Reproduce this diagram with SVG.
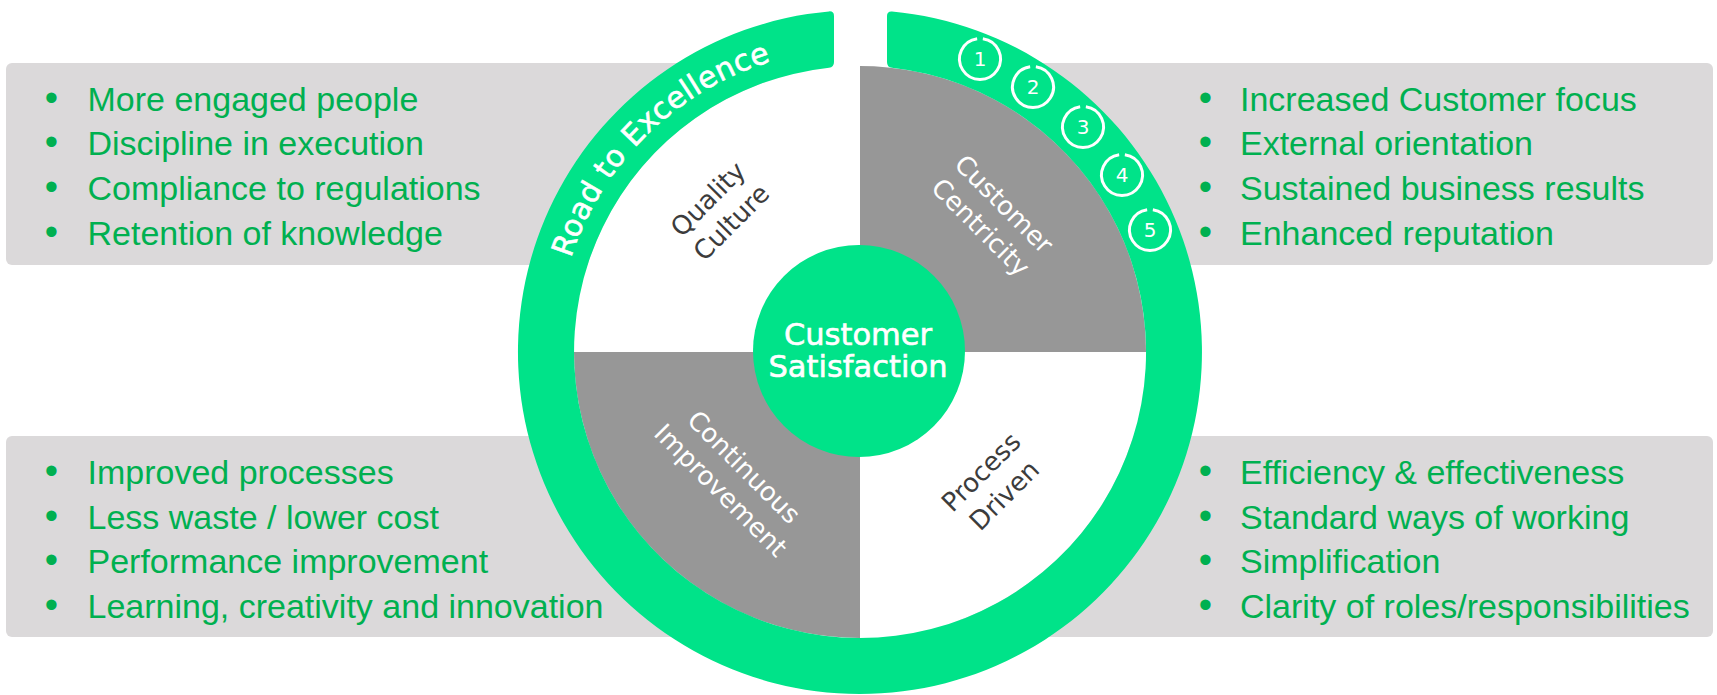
<svg xmlns="http://www.w3.org/2000/svg" xmlns:xlink="http://www.w3.org/1999/xlink" width="1717" height="695" viewBox="0 0 1717 695">
  <style>
    .panel { fill: #dbd9da; }
    .bullet { font-family: "Liberation Sans", Arial, sans-serif; font-size: 34px; fill: #00b050; }
    .dot { font-family: "Liberation Sans", Arial, sans-serif; font-size: 38px; fill: #00b050; text-anchor: middle; }
    .green { fill: #00e389; }
    .dark { fill: #979797; }
    .seg { font-family: "DejaVu Sans", sans-serif; font-size: 26px; text-anchor: middle; }
    .segdark { fill: #3c3c3c; }
    .seglight { fill: #ffffff; }
    .center { font-family: "DejaVu Sans", sans-serif; font-size: 30.5px; fill: #ffffff; stroke: #ffffff; stroke-width: 0.6; text-anchor: middle; }
    .road { font-family: "DejaVu Sans", sans-serif; font-size: 30px; letter-spacing: 0.4px; fill: #ffffff; stroke: #ffffff; stroke-width: 0.6; }
    .num { font-family: "DejaVu Sans", sans-serif; font-size: 20px; fill: #ffffff; text-anchor: middle; }
    .numring { fill: none; stroke: #ffffff; stroke-width: 3; }
  </style>
  <defs>
    <path id="roadArc" d="M 561.1,296.6 A 304 304 0 0 1 809.8,52.2"/>
    <path id="gapRing" d="M 2.85,-20.3 A 20.5 20.5 0 1 1 -2.85,-20.3"/>
  </defs>

  <rect width="1717" height="695" fill="#ffffff"/>

  <!-- Panels -->
  <g id="panel-top-left">
    <rect class="panel" x="6" y="63" width="760" height="202" rx="6"/>
    <text class="dot" x="51.5" y="110.5">•</text>
    <text class="dot" x="51.5" y="155">•</text>
    <text class="dot" x="51.5" y="200">•</text>
    <text class="dot" x="51.5" y="245">•</text>
    <text class="bullet" x="87.5" y="110.5">More engaged people</text>
    <text class="bullet" x="87.5" y="155">Discipline in execution</text>
    <text class="bullet" x="87.5" y="200">Compliance to regulations</text>
    <text class="bullet" x="87.5" y="245">Retention of knowledge</text>
  </g>
  <g id="panel-top-right">
    <rect class="panel" x="960" y="63" width="753" height="202" rx="6"/>
    <text class="dot" x="1205.5" y="110.5">•</text>
    <text class="dot" x="1205.5" y="155">•</text>
    <text class="dot" x="1205.5" y="200">•</text>
    <text class="dot" x="1205.5" y="245">•</text>
    <text class="bullet" x="1240" y="110.5">Increased Customer focus</text>
    <text class="bullet" x="1240" y="155">External orientation</text>
    <text class="bullet" x="1240" y="200">Sustained business results</text>
    <text class="bullet" x="1240" y="245">Enhanced reputation</text>
  </g>
  <g id="panel-bottom-left">
    <rect class="panel" x="6" y="436" width="760" height="201" rx="6"/>
    <text class="dot" x="51.5" y="484">•</text>
    <text class="dot" x="51.5" y="528.5">•</text>
    <text class="dot" x="51.5" y="573">•</text>
    <text class="dot" x="51.5" y="617.5">•</text>
    <text class="bullet" x="87.5" y="484">Improved processes</text>
    <text class="bullet" x="87.5" y="528.5">Less waste / lower cost</text>
    <text class="bullet" x="87.5" y="573">Performance improvement</text>
    <text class="bullet" x="87.5" y="617.5">Learning, creativity and innovation</text>
  </g>
  <g id="panel-bottom-right">
    <rect class="panel" x="960" y="436" width="753" height="201" rx="6"/>
    <text class="dot" x="1205.5" y="484">•</text>
    <text class="dot" x="1205.5" y="528.5">•</text>
    <text class="dot" x="1205.5" y="573">•</text>
    <text class="dot" x="1205.5" y="617.5">•</text>
    <text class="bullet" x="1240" y="484">Efficiency &amp; effectiveness</text>
    <text class="bullet" x="1240" y="528.5">Standard ways of working</text>
    <text class="bullet" x="1240" y="573">Simplification</text>
    <text class="bullet" x="1240" y="617.5">Clarity of roles/responsibilities</text>
  </g>

  <!-- Quadrants -->
  <g id="quadrant-quality-culture">
    <path fill="#ffffff" d="M 860,352 L 574,352 A 286 286 0 0 1 860,66 Z"/>
    <text class="seg segdark" transform="translate(720,211) rotate(-45)"><tspan x="0" y="-8">Quality</tspan><tspan x="0" y="25">Culture</tspan></text>
  </g>
  <g id="quadrant-customer-centricity">
    <path class="dark" d="M 860,352 L 860,66 A 286 286 0 0 1 1146,352 Z"/>
    <text class="seg seglight" transform="translate(992,216) rotate(45)"><tspan x="0" y="-8">Customer</tspan><tspan x="0" y="25">Centricity</tspan></text>
  </g>
  <g id="quadrant-continuous-improvement">
    <path class="dark" d="M 860,352 L 574,352 A 286 286 0 0 0 860,638 Z"/>
    <text class="seg seglight" transform="translate(732,479) rotate(45)"><tspan x="0" y="-8">Continuous</tspan><tspan x="0" y="25">Improvement</tspan></text>
  </g>
  <g id="quadrant-process-driven">
    <path fill="#ffffff" d="M 860,352 L 1146,352 A 286 286 0 0 1 860,638 Z"/>
    <text class="seg segdark" transform="translate(993,484) rotate(-45)"><tspan x="0" y="-8">Process</tspan><tspan x="0" y="25">Driven</tspan></text>
  </g>

  <!-- Outer ring -->
  <g id="road-ring">
    <path class="green" d="M 829,11.4 A 342 342 0 1 0 892,11.5 Q 887,11.1 887,16 L 887,62 Q 887,67.4 892,67.8 A 286 286 0 1 1 829,67.7 Q 834,67.3 834,62 L 834,16 Q 834,11 829,11.4 Z"/>
    <text class="road"><textPath href="#roadArc" xlink:href="#roadArc" startOffset="50%" text-anchor="middle">Road to Excellence</textPath></text>
  </g>

  <g id="steps">
    <g transform="translate(980,59)"><use href="#gapRing" xlink:href="#gapRing" class="numring"/><text class="num" y="7">1</text></g>
    <g transform="translate(1033,87)"><use href="#gapRing" xlink:href="#gapRing" class="numring"/><text class="num" y="7">2</text></g>
    <g transform="translate(1083,127)"><use href="#gapRing" xlink:href="#gapRing" class="numring"/><text class="num" y="7">3</text></g>
    <g transform="translate(1122,175)"><use href="#gapRing" xlink:href="#gapRing" class="numring"/><text class="num" y="7">4</text></g>
    <g transform="translate(1150,230)"><use href="#gapRing" xlink:href="#gapRing" class="numring"/><text class="num" y="7">5</text></g>
  </g>

  <!-- Center -->
  <g id="customer-satisfaction">
    <circle class="green" cx="859" cy="351" r="106"/>
    <text class="center" x="858" y="345">Customer</text>
    <text class="center" x="858" y="377">Satisfaction</text>
  </g>
</svg>
